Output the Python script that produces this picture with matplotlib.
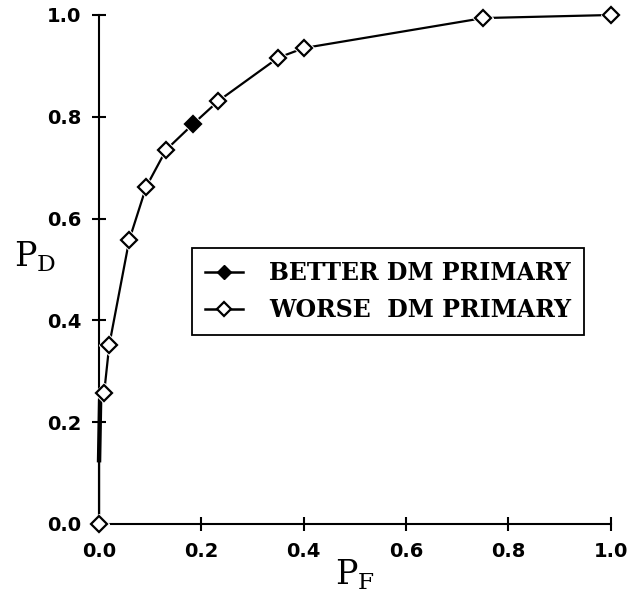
import matplotlib.pyplot as plt
import numpy as np
from matplotlib.lines import Line2D

# =========================
# DATA
# =========================
worse_pf = [0.0, 0.010, 0.020, 0.059, 0.092, 0.131, 0.233, 0.350, 0.400, 0.751, 1.0]
worse_pd = [0.0, 0.258, 0.352, 0.558, 0.662, 0.735, 0.831, 0.916, 0.935, 0.994, 1.0]
better_pf = [0.183]
better_pd = [0.785]

# curve points between markers (it runs up the axis near the origin)
bend_pf = [0.0, 0.002]
bend_pd = [0.125, 0.240]

x_ticks = [0.0, 0.2, 0.4, 0.6, 0.8, 1.0]
y_ticks = [0.0, 0.2, 0.4, 0.6, 0.8, 1.0]

# one curve through every operating point
all_pf = np.array(worse_pf + better_pf + bend_pf)
all_pd = np.array(worse_pd + better_pd + bend_pd)
order = np.lexsort((all_pd, all_pf))
curve_pf = all_pf[order]
curve_pd = all_pd[order]

marked_pf = worse_pf + better_pf
marked_pd = worse_pd + better_pd

# =========================
# PLOT
# =========================
fig = plt.figure(figsize=(6.31, 6.0), dpi=100)
ax = fig.add_axes([0.157, 0.127, 0.811, 0.848])

ax.plot(curve_pf, curve_pd, color="black", lw=1.6, zorder=2, clip_on=False)
# thicker stroke where the curve hugs the axis
ax.plot(bend_pf, bend_pd, color="black", lw=3.2, zorder=2, clip_on=False)

# white halo so the line stops short of each marker
ax.plot(marked_pf, marked_pd, ls="none", marker="D", ms=10.5, mfc="white",
        mec="white", zorder=3, clip_on=False)
ax.plot(worse_pf, worse_pd, ls="none", marker="D", ms=7.8, mfc="white",
        mec="black", mew=1.6, zorder=4, clip_on=False)
ax.plot(better_pf, better_pd, ls="none", marker="D", ms=7.8, mfc="black",
        mec="black", mew=1.6, zorder=4, clip_on=False)

ax.set_xlim(0, 1.0)
ax.set_ylim(0, 1.0)
ax.set_xticks(x_ticks)
ax.set_yticks(y_ticks)
ax.set_xticklabels([f"{t:.1f}" for t in x_ticks])
ax.set_yticklabels([f"{t:.1f}" for t in y_ticks])

for side in ["top", "right"]:
    ax.spines[side].set_visible(False)
for side in ["left", "bottom"]:
    ax.spines[side].set_linewidth(1.5)

ax.tick_params(direction="inout", length=10, width=1.5, labelsize=14, pad=8)
for lab in ax.get_xticklabels() + ax.get_yticklabels():
    lab.set_fontweight("bold")

ax.set_xlabel(r"$\mathregular{P_F}$", fontsize=24, family="DejaVu Serif", labelpad=-2)
ax.set_ylabel(r"$\mathregular{P_D}$", fontsize=24, family="DejaVu Serif",
              rotation=0, labelpad=18)
ax.yaxis.set_label_coords(-0.125, 0.49)

handles = [
    Line2D([], [], color="black", lw=1.8, marker="D", ms=7.5, mfc="black", mec="black"),
    Line2D([], [], color="black", lw=1.8, marker="D", ms=7.5, mfc="white", mec="black",
           mew=1.6),
]
leg = ax.legend(handles, ["BETTER DM PRIMARY", "WORSE  DM PRIMARY"],
                loc="upper left", bbox_to_anchor=(0.182, 0.542),
                prop={"family": "DejaVu Serif", "size": 17, "weight": "bold"},
                handlelength=1.6, handletextpad=1.1, fancybox=False,
                framealpha=1, edgecolor="black", borderpad=0.55, labelspacing=0.55,
                borderaxespad=0)
leg.get_frame().set_linewidth(1.3)

plt.savefig("out.png", dpi=100)
